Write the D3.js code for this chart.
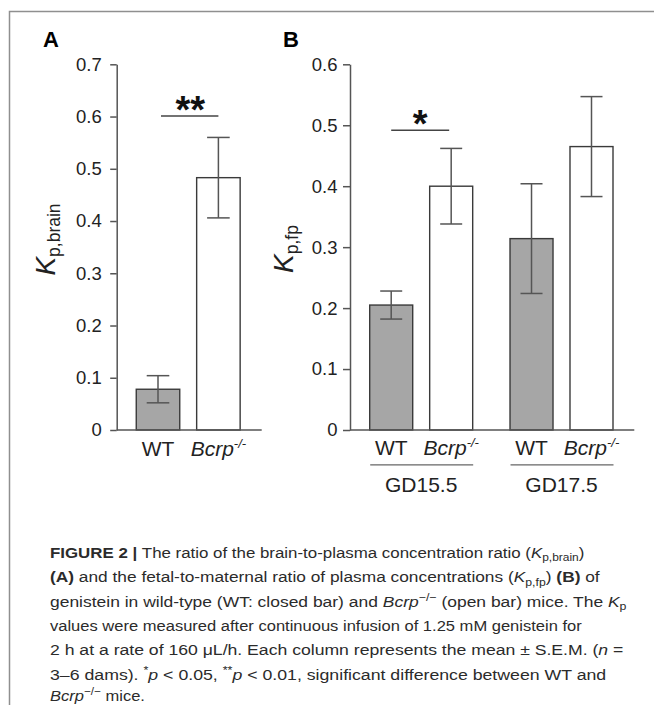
<!DOCTYPE html>
<html>
<head>
<meta charset="utf-8">
<script src="https://cdn.jsdelivr.net/npm/d3@7"></script>
<style>
  body { margin: 0; background: #fff; }
  svg { display: block; }
</style>
</head>
<body>
<svg id="fig" width="654" height="705"></svg>
<script>
// panel A: brain-to-plasma ratio
const genotypes = ['WT', 'Bcrp'];
const meanA = [0.078, 0.483];
const semA = [0.026, 0.077];
const ticksA = [0, 0.1, 0.2, 0.3, 0.4, 0.5, 0.6, 0.7];

// panel B: fetal-to-maternal ratio, by gestational day
const days = ['GD15.5', 'GD17.5'];
const meanB = [[0.205, 0.400], [0.314, 0.465]];
const semB = [[0.023, 0.062], [0.090, 0.082]];
const ticksB = [0, 0.1, 0.2, 0.3, 0.4, 0.5, 0.6];

const sigA = { level: 0.601, label: '**' };
const sigB = { day: 'GD15.5', level: 0.492, label: '*' };

const FONT = '"Liberation Sans", Arial, Helvetica, sans-serif';
const AXIS = '#555';
const EDGE = '#3a3a3a';
const fills = { WT: '#a6a6a6', Bcrp: '#ffffff' };
const fmt = d => d === 0 ? '0' : d.toFixed(1);

const svg = d3.select('#fig');

// frame
svg.append('path')
  .attr('d', 'M9.5,705 V11.5 H654')
  .attr('fill', 'none').attr('stroke', '#8f8f8f').attr('stroke-width', 1.5);

// rich text helper: segments of {t, b, i, sub, sup}
function rich(sel, segs, o) {
  let shift = 0;
  segs.forEach(s => {
    const want = s.sub ? o.subDy : s.sup ? -o.supDy : 0;
    const ts = sel.append('tspan').text(s.t);
    if (want - shift !== 0) ts.attr('dy', want - shift);
    shift = want;
    if (s.b) ts.attr('font-weight', 'bold');
    if (s.i) ts.attr('font-style', 'italic');
    if (s.sub || s.sup) ts.attr('font-size', o.small);
    if (s.size) ts.attr('font-size', s.size);
  });
  return sel;
}

function errorBars(g, x, y, m, e, cap) {
  g.append('line').attr('x1', x).attr('x2', x).attr('y1', y(m + e)).attr('y2', y(m - e));
  [m + e, m - e].forEach(v => {
    g.append('line').attr('x1', x - cap / 2).attr('x2', x + cap / 2).attr('y1', y(v)).attr('y2', y(v));
  });
}

function xLabel(g, x, y, name) {
  const t = g.append('text').attr('x', x).attr('y', y).attr('text-anchor', 'middle')
    .attr('font-size', 21).attr('fill', '#222');
  if (name === 'WT') t.text('WT');
  else rich(t, [{ t: 'Bcrp', i: true }, { t: '-/-', i: true, sup: true }], { small: 13, supDy: 8 });
}

function styleAxis(g) {
  g.attr('font-family', FONT).attr('font-size', 18.5);
  g.selectAll('path, line').attr('stroke', AXIS).attr('stroke-width', 1.5);
  g.selectAll('text').attr('fill', '#222');
}

// ---------- panel A ----------
const yA = d3.scaleLinear().domain([0, 0.7]).range([430, 64.3]);
const xA = d3.scaleBand().domain(genotypes).range([127.8, 248.6]).paddingInner(0.28).paddingOuter(0.14);
const gA = svg.append('g').attr('font-family', FONT);

gA.append('text').attr('x', 43).attr('y', 46.7).attr('font-size', 22).attr('font-weight', 'bold').text('A');

gA.append('g').attr('transform', 'translate(116.7,0)')
  .call(d3.axisLeft(yA).tickValues(ticksA).tickFormat(fmt).tickSize(6.5).tickPadding(8.5).tickSizeOuter(0))
  .call(styleAxis);

gA.selectAll('rect.bar').data(genotypes).join('rect').attr('class', 'bar')
  .attr('x', d => xA(d)).attr('width', xA.bandwidth())
  .attr('y', (d, i) => yA(meanA[i])).attr('height', (d, i) => yA(0) - yA(meanA[i]))
  .attr('fill', d => fills[d]).attr('stroke', EDGE).attr('stroke-width', 1.4);

gA.append('line').attr('x1', 116.7).attr('x2', 261.7).attr('y1', yA(0)).attr('y2', yA(0))
  .attr('stroke', AXIS).attr('stroke-width', 1.5);

const ebA = gA.append('g').attr('stroke', AXIS).attr('stroke-width', 1.5);
genotypes.forEach((d, i) => errorBars(ebA, xA(d) + xA.bandwidth() / 2, yA, meanA[i], semA[i], 22.6));

genotypes.forEach(d => xLabel(gA, xA(d) + xA.bandwidth() / 2, 456, d));

const cA = genotypes.map(d => xA(d) + xA.bandwidth() / 2);
gA.append('line').attr('x1', cA[0] + 3).attr('x2', cA[1]).attr('y1', yA(sigA.level)).attr('y2', yA(sigA.level))
  .attr('stroke', '#444').attr('stroke-width', 1.5);
gA.append('text').attr('x', (cA[0] + cA[1]) / 2 + 2).attr('y', yA(sigA.level) + 7)
  .attr('text-anchor', 'middle').attr('font-size', 38).attr('font-weight', 'bold').attr('fill', '#111')
  .text(sigA.label);

const labA = gA.append('text').attr('transform', 'translate(55,239.5) rotate(-90)')
  .attr('text-anchor', 'middle').attr('fill', '#222');
rich(labA, [{ t: 'K', i: true, size: 28 }, { t: 'p,brain', sub: true }], { small: 17.5, subDy: 5 });

// ---------- panel B ----------
const yB = d3.scaleLinear().domain([0, 0.6]).range([430, 64.3]);
const xB = d3.scaleBand().domain(days).range([369.7, 613]).paddingInner(0.266).paddingOuter(0);
const xG = d3.scaleBand().domain(genotypes).range([0, xB.bandwidth()]).paddingInner(0.283).paddingOuter(0);
const gB = svg.append('g').attr('font-family', FONT);

gB.append('text').attr('x', 283).attr('y', 46.7).attr('font-size', 22).attr('font-weight', 'bold').text('B');

gB.append('g').attr('transform', 'translate(350,0)')
  .call(d3.axisLeft(yB).tickValues(ticksB).tickFormat(fmt).tickSize(7).tickPadding(5.5).tickSizeOuter(0))
  .call(styleAxis);

days.forEach((day, j) => {
  gB.selectAll('rect.b' + j).data(genotypes).join('rect').attr('class', 'b' + j)
    .attr('x', d => xB(day) + xG(d)).attr('width', xG.bandwidth())
    .attr('y', (d, i) => yB(meanB[j][i])).attr('height', (d, i) => yB(0) - yB(meanB[j][i]))
    .attr('fill', d => fills[d]).attr('stroke', EDGE).attr('stroke-width', 1.4);
});

gB.append('line').attr('x1', 350).attr('x2', 634.3).attr('y1', yB(0)).attr('y2', yB(0))
  .attr('stroke', AXIS).attr('stroke-width', 1.5);

const ebB = gB.append('g').attr('stroke', AXIS).attr('stroke-width', 1.5);
days.forEach((day, j) => genotypes.forEach((d, i) =>
  errorBars(ebB, xB(day) + xG(d) + xG.bandwidth() / 2, yB, meanB[j][i], semB[j][i], 22)));

days.forEach(day => {
  genotypes.forEach(d => xLabel(gB, xB(day) + xG(d) + xG.bandwidth() / 2, 455, d));
  gB.append('line').attr('x1', xB(day) + 0.5).attr('x2', xB(day) + xB.bandwidth() + 0.5)
    .attr('y1', 464.8).attr('y2', 464.8).attr('stroke', '#666').attr('stroke-width', 1.3);
  gB.append('text').attr('x', xB(day) + xB.bandwidth() / 2).attr('y', 491.5)
    .attr('text-anchor', 'middle').attr('font-size', 21).attr('fill', '#222').text(day);
});

const cB = genotypes.map(d => xB(sigB.day) + xG(d) + xG.bandwidth() / 2);
gB.append('line').attr('x1', cB[0]).attr('x2', cB[1] - 2).attr('y1', yB(sigB.level)).attr('y2', yB(sigB.level))
  .attr('stroke', '#444').attr('stroke-width', 1.5);
gB.append('text').attr('x', (cB[0] + cB[1]) / 2 - 1).attr('y', yB(sigB.level) + 7)
  .attr('text-anchor', 'middle').attr('font-size', 38).attr('font-weight', 'bold').attr('fill', '#111')
  .text(sigB.label);

const labB = gB.append('text').attr('transform', 'translate(293,249) rotate(-90)')
  .attr('text-anchor', 'middle').attr('fill', '#222');
rich(labB, [{ t: 'K', i: true, size: 28 }, { t: 'p,fp', sub: true }], { small: 17.5, subDy: 5 });

// ---------- caption ----------
const capLines = [
  { w: 535, segs: [{ t: 'FIGURE 2 | ', b: true }, { t: 'The ratio of the brain-to-plasma concentration ratio (' }, { t: 'K', i: true }, { t: 'p,brain', sub: true }, { t: ')' }] },
  { w: 551, segs: [{ t: '(A)', b: true }, { t: ' and the fetal-to-maternal ratio of plasma concentrations (' }, { t: 'K', i: true }, { t: 'p,fp', sub: true }, { t: ') ' }, { t: '(B)', b: true }, { t: ' of' }] },
  { w: 577, segs: [{ t: 'genistein in wild-type (WT: closed bar) and ' }, { t: 'Bcrp', i: true }, { t: '\u2212/\u2212', sup: true }, { t: ' (open bar) mice. The ' }, { t: 'K', i: true }, { t: 'p', sub: true }] },
  { w: 532, segs: [{ t: 'values were measured after continuous infusion of 1.25 mM genistein for' }] },
  { w: 574, segs: [{ t: '2 h at a rate of 160 \u03bcL/h. Each column represents the mean \u00b1 S.E.M. (' }, { t: 'n', i: true }, { t: ' =' }] },
  { w: 557, segs: [{ t: '3\u20136 dams). ' }, { t: '*', sup: true }, { t: 'p', i: true }, { t: ' < 0.05, ' }, { t: '**', sup: true }, { t: 'p', i: true }, { t: ' < 0.01, significant difference between WT and' }] },
  { w: 95, segs: [{ t: 'Bcrp', i: true }, { t: '\u2212/\u2212', sup: true }, { t: ' mice.' }] }
];
const capBase = [557.7, 582.2, 606.5, 630.9, 655.2, 679.6, 701];
const cap = svg.append('g').attr('font-family', FONT).attr('font-size', 15.5).attr('fill', '#2b2b2b');
capLines.forEach((ln, k) => {
  const row = cap.append('g').attr('transform', `translate(50,${capBase[k]})`);
  const t = row.append('text').attr('x', 0).attr('y', 0);
  rich(t, ln.segs, { small: 11, subDy: 3.5, supDy: 6 });
  // squeeze each line to the width it takes in the figure
  const natural = t.node().getBBox().width;
  if (natural > 0) row.attr('transform', `translate(50,${capBase[k]}) scale(${ln.w / natural},1)`);
});
</script>
</body>
</html>
